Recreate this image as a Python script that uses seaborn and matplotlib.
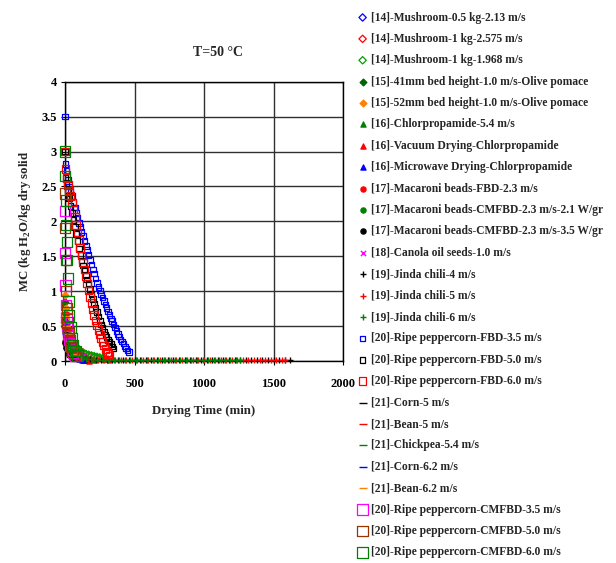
import matplotlib
matplotlib.use("Agg")
import matplotlib.pyplot as plt
import seaborn as sns

# ---- data (time in min, MC in kg H2O/kg dry solid) ----
mush_05_t = [0, 10, 20, 30, 40, 50, 60, 75, 90, 105, 120, 135, 150]
mush_05_mc = [0.62, 0.52, 0.44, 0.37, 0.31, 0.26, 0.22, 0.17, 0.13, 0.10, 0.08, 0.06, 0.05]
mush_1a_t = [0, 15, 30, 45, 60, 75, 90, 110, 130, 150, 170, 190, 210, 230, 250, 270, 290, 310, 330]
mush_1a_mc = [0.55, 0.45, 0.37, 0.31, 0.26, 0.22, 0.18, 0.15, 0.12, 0.10, 0.08, 0.07, 0.06, 0.05, 0.04, 0.03, 0.03, 0.02, 0.02]
mush_1b_t = [0, 15, 30, 45, 60, 75, 90, 110, 130, 150, 170, 190, 210, 230, 250, 270, 290]
mush_1b_mc = [0.50, 0.41, 0.34, 0.28, 0.24, 0.20, 0.17, 0.14, 0.12, 0.10, 0.09, 0.08, 0.07, 0.06, 0.05, 0.04, 0.03]

olive_41_t = [0, 5, 10, 15, 20, 30, 40, 50, 60, 70]
olive_41_mc = [0.85, 0.68, 0.55, 0.45, 0.37, 0.27, 0.20, 0.15, 0.12, 0.10]
olive_52_t = [0, 5, 10, 15, 20, 30, 40, 50, 60, 70]
olive_52_mc = [0.95, 0.76, 0.60, 0.48, 0.39, 0.28, 0.21, 0.16, 0.13, 0.11]

chlor_54_t = [0, 10, 20, 30, 40, 50, 60, 70, 80, 90, 100, 120, 140, 160, 180, 200]
chlor_54_mc = [0.55, 0.45, 0.38, 0.32, 0.27, 0.23, 0.20, 0.17, 0.15, 0.13, 0.11, 0.08, 0.06, 0.04, 0.03, 0.02]
chlor_vac_t = [0, 20, 40, 60, 80, 100, 120, 140, 160, 175]
chlor_vac_mc = [0.30, 0.22, 0.16, 0.12, 0.08, 0.06, 0.04, 0.02, 0.01, 0.0]
chlor_mw_t = [0, 5, 10, 15, 20, 25, 30, 40, 50, 60, 80, 100, 120, 140]
chlor_mw_mc = [0.62, 0.50, 0.41, 0.34, 0.28, 0.23, 0.19, 0.14, 0.10, 0.08, 0.05, 0.03, 0.02, 0.01]

mac_fbd_t = [0, 10, 20, 30, 40, 50, 60, 75, 90]
mac_fbd_mc = [0.28, 0.22, 0.18, 0.14, 0.11, 0.09, 0.07, 0.05, 0.04]
mac_21_t = [0, 10, 20, 30, 40, 50, 60]
mac_21_mc = [0.27, 0.20, 0.15, 0.11, 0.08, 0.06, 0.05]
mac_35_t = [0, 10, 20, 30, 40, 50]
mac_35_mc = [0.26, 0.18, 0.13, 0.09, 0.07, 0.05]

canola_t = [0, 10, 20, 30, 40, 50, 60, 80, 100, 120]
canola_mc = [0.60, 0.50, 0.42, 0.35, 0.29, 0.24, 0.20, 0.14, 0.10, 0.07]

chili4_t = [0, 15, 30, 45, 60, 90, 120, 150, 180, 220, 260, 300, 340, 380, 420, 460, 500, 540,
            580, 620, 660, 700, 740, 780, 820, 860, 900, 940, 980, 1020, 1060, 1100, 1140, 1180,
            1220, 1260, 1300, 1340, 1380, 1420, 1460, 1500, 1540, 1580, 1620]
chili4_mc = [0.42, 0.30, 0.21, 0.15, 0.10, 0.06, 0.04, 0.03, 0.025, 0.02, 0.02, 0.018, 0.017, 0.016,
             0.015, 0.015, 0.014, 0.014, 0.013, 0.013, 0.013, 0.012, 0.012, 0.012, 0.012, 0.011,
             0.011, 0.011, 0.011, 0.011, 0.010, 0.010, 0.010, 0.010, 0.010, 0.010, 0.010, 0.010,
             0.010, 0.010, 0.010, 0.010, 0.010, 0.010, 0.010]
chili5_t = [0, 15, 30, 45, 60, 90, 120, 160, 200, 240, 280, 320, 360, 400, 440, 480, 520, 560,
            600, 640, 680, 720, 760, 800, 840, 880, 920, 960, 1000, 1040, 1080, 1120, 1160, 1200,
            1240, 1280, 1320, 1360, 1400, 1440, 1480, 1520, 1560, 1580]
chili5_mc = [0.45, 0.32, 0.22, 0.16, 0.11, 0.07, 0.045, 0.03, 0.025, 0.02, 0.018, 0.017, 0.016,
             0.015, 0.015, 0.014, 0.014, 0.013, 0.013, 0.013, 0.012, 0.012, 0.012, 0.012, 0.011,
             0.011, 0.011, 0.011, 0.010, 0.010, 0.010, 0.010, 0.010, 0.010, 0.010, 0.010, 0.010,
             0.010, 0.010, 0.010, 0.010, 0.010, 0.010, 0.010]
chili6_t = [0, 15, 30, 45, 60, 90, 120, 150, 190, 230, 270, 310, 350, 390, 430, 470, 510, 550,
            590, 630, 670, 710, 750, 790, 830, 870, 910, 950, 990, 1030, 1070, 1110, 1150, 1190,
            1230, 1260]
chili6_mc = [0.47, 0.33, 0.23, 0.16, 0.11, 0.07, 0.045, 0.03, 0.025, 0.02, 0.018, 0.017, 0.016,
             0.015, 0.015, 0.014, 0.014, 0.013, 0.013, 0.013, 0.012, 0.012, 0.012, 0.012, 0.011,
             0.011, 0.011, 0.011, 0.010, 0.010, 0.010, 0.010, 0.010, 0.010, 0.010, 0.010]

fbd35_t = [0, 5, 10, 20, 30, 40, 50, 60, 70, 80, 90, 100, 110, 120, 130, 140, 150, 160, 170, 180,
           190, 200, 210, 220, 230, 240, 250, 260, 270, 280, 290, 300, 310, 320, 330, 340, 350,
           360, 370, 380, 390, 400, 410, 420, 430, 440, 450, 460]
fbd35_mc = [3.5, 2.82, 2.72, 2.60, 2.50, 2.42, 2.36, 2.28, 2.20, 2.12, 2.05, 1.98, 1.92, 1.85,
            1.79, 1.72, 1.65, 1.59, 1.52, 1.45, 1.38, 1.31, 1.25, 1.18, 1.12, 1.06, 1.01, 0.96,
            0.91, 0.86, 0.81, 0.76, 0.71, 0.66, 0.61, 0.57, 0.52, 0.48, 0.43, 0.39, 0.35, 0.31,
            0.28, 0.25, 0.21, 0.18, 0.15, 0.13]
fbd50_t = [0, 5, 10, 20, 30, 40, 50, 60, 70, 80, 90, 100, 110, 120, 130, 140, 150, 160, 170, 180,
           190, 200, 210, 220, 230, 240, 250, 260, 270, 280, 290, 300, 310, 320, 330, 340, 350]
fbd50_mc = [3.0, 2.62, 2.55, 2.45, 2.33, 2.22, 2.12, 2.02, 1.92, 1.82, 1.72, 1.61, 1.52, 1.44,
            1.37, 1.30, 1.23, 1.17, 1.10, 1.03, 0.96, 0.89, 0.82, 0.76, 0.70, 0.64, 0.58, 0.52,
            0.47, 0.42, 0.38, 0.34, 0.30, 0.27, 0.24, 0.21, 0.18]
fbd60_t = [0, 5, 10, 20, 30, 40, 50, 60, 70, 80, 90, 100, 110, 120, 130, 140, 150, 160, 170, 180,
           190, 200, 210, 220, 230, 240, 250, 260, 270, 280, 290, 300, 310, 320]
fbd60_mc = [3.0, 2.75, 2.62, 2.52, 2.44, 2.36, 2.27, 2.17, 2.06, 1.95, 1.84, 1.73, 1.62, 1.51,
            1.41, 1.31, 1.21, 1.11, 1.01, 0.92, 0.83, 0.74, 0.66, 0.58, 0.51, 0.44, 0.38, 0.32,
            0.27, 0.22, 0.17, 0.13, 0.10, 0.08]

corn5_t = [0, 10, 20, 30, 40, 50, 60, 70, 80]
corn5_mc = [0.55, 0.43, 0.34, 0.27, 0.21, 0.16, 0.12, 0.09, 0.07]
bean5_t = [0, 10, 20, 30, 40, 50, 60, 70, 80, 90]
bean5_mc = [0.70, 0.56, 0.45, 0.36, 0.29, 0.23, 0.18, 0.14, 0.11, 0.09]
chick_t = [0, 10, 20, 30, 40, 50, 60, 70, 80, 90, 100]
chick_mc = [0.48, 0.40, 0.33, 0.28, 0.23, 0.19, 0.16, 0.13, 0.11, 0.09, 0.08]
corn62_t = [0, 10, 20, 30, 40, 50, 60, 70]
corn62_mc = [0.50, 0.38, 0.29, 0.22, 0.17, 0.13, 0.10, 0.08]
bean62_t = [0, 10, 20, 30, 40, 50, 60, 70, 80]
bean62_mc = [0.65, 0.50, 0.38, 0.29, 0.22, 0.17, 0.13, 0.10, 0.08]

cm35_t = [0, 2, 4, 6, 10, 15, 20, 30, 40, 50, 60, 75]
cm35_mc = [2.15, 1.55, 1.08, 0.80, 0.62, 0.50, 0.40, 0.30, 0.22, 0.16, 0.12, 0.08]
cm50_t = [0, 2, 5, 8, 12, 18, 25, 35, 45, 55, 70]
cm50_mc = [2.40, 1.90, 1.45, 1.00, 0.75, 0.55, 0.42, 0.30, 0.20, 0.14, 0.10]
cm60_t = [0, 2, 5, 8, 12, 16, 20, 25, 30, 40, 50, 60, 75, 90]
cm60_mc = [3.0, 2.65, 2.30, 1.95, 1.70, 1.45, 1.18, 0.85, 0.65, 0.48, 0.33, 0.22, 0.14, 0.08]

labels = [
    "[14]-Mushroom-0.5 kg-2.13 m/s",
    "[14]-Mushroom-1 kg-2.575 m/s",
    "[14]-Mushroom-1 kg-1.968 m/s",
    "[15]-41mm bed height-1.0 m/s-Olive pomace",
    "[15]-52mm bed height-1.0 m/s-Olive pomace",
    "[16]-Chlorpropamide-5.4 m/s",
    "[16]-Vacuum Drying-Chlorpropamide",
    "[16]-Microwave Drying-Chlorpropamide",
    "[17]-Macaroni beads-FBD-2.3 m/s",
    "[17]-Macaroni beads-CMFBD-2.3 m/s-2.1 W/gr",
    "[17]-Macaroni beads-CMFBD-2.3 m/s-3.5 W/gr",
    "[18]-Canola oil seeds-1.0 m/s",
    "[19]-Jinda chili-4 m/s",
    "[19]-Jinda chili-5 m/s",
    "[19]-Jinda chili-6 m/s",
    "[20]-Ripe peppercorn-FBD-3.5 m/s",
    "[20]-Ripe peppercorn-FBD-5.0 m/s",
    "[20]-Ripe peppercorn-FBD-6.0 m/s",
    "[21]-Corn-5 m/s",
    "[21]-Bean-5 m/s",
    "[21]-Chickpea-5.4 m/s",
    "[21]-Corn-6.2 m/s",
    "[21]-Bean-6.2 m/s",
    "[20]-Ripe peppercorn-CMFBD-3.5 m/s",
    "[20]-Ripe peppercorn-CMFBD-5.0 m/s",
    "[20]-Ripe peppercorn-CMFBD-6.0 m/s",
]
series = [
    (mush_05_t, mush_05_mc), (mush_1a_t, mush_1a_mc), (mush_1b_t, mush_1b_mc),
    (olive_41_t, olive_41_mc), (olive_52_t, olive_52_mc),
    (chlor_54_t, chlor_54_mc), (chlor_vac_t, chlor_vac_mc), (chlor_mw_t, chlor_mw_mc),
    (mac_fbd_t, mac_fbd_mc), (mac_21_t, mac_21_mc), (mac_35_t, mac_35_mc),
    (canola_t, canola_mc),
    (chili4_t, chili4_mc), (chili5_t, chili5_mc), (chili6_t, chili6_mc),
    (fbd35_t, fbd35_mc), (fbd50_t, fbd50_mc), (fbd60_t, fbd60_mc),
    (corn5_t, corn5_mc), (bean5_t, bean5_mc), (chick_t, chick_mc),
    (corn62_t, corn62_mc), (bean62_t, bean62_mc),
    (cm35_t, cm35_mc), (cm50_t, cm50_mc), (cm60_t, cm60_mc),
]

# marker, colour, open?, size
styles = [
    ("D", "#0000FF", True, 14), ("D", "#FF0000", True, 14), ("D", "#00A000", True, 14),
    ("D", "#006400", False, 12), ("D", "#FF7F00", False, 12),
    ("^", "#008000", False, 14), ("^", "#FF0000", False, 14), ("^", "#0000FF", False, 14),
    ("o", "#FF0000", False, 14), ("o", "#008000", False, 14), ("o", "#000000", False, 14),
    ("x", "#FF00FF", False, 14),
    ("+", "#000000", False, 16), ("+", "#FF0000", False, 16), ("+", "#008000", False, 16),
    ("s", "#0000FF", True, 16), ("s", "#000000", True, 16), ("s", "#FF0000", True, 30),
    ("_", "#000000", False, 30), ("_", "#FF0000", False, 30), ("_", "#008000", False, 30),
    ("_", "#0000FF", False, 30), ("_", "#FF7F00", False, 30),
    ("s", "#FF00FF", True, 55), ("s", "#993300", True, 55), ("s", "#008000", True, 55),
]

sns.set_theme(style="white")
plt.rcParams['font.family'] = ['Liberation Serif', 'DejaVu Serif']
plt.rcParams['font.weight'] = 'bold'
plt.rcParams['mathtext.fontset'] = 'custom'
plt.rcParams['mathtext.rm'] = 'Liberation Serif:bold'

fig = plt.figure(figsize=(6.16, 5.63), dpi=100)
ax = fig.add_axes([65 / 616, 1 - 361 / 563, 278 / 616, (361 - 81.7) / 563])

for (t, mc), lab, (mk, col, hollow, size) in zip(series, labels, styles):
    kw = dict(marker=mk, s=size, color=col, clip_on=False, zorder=3)
    if mk in ("+", "x", "_"):
        kw["linewidth"] = 1.0
    else:
        kw["edgecolor"] = col
        kw["linewidth"] = 0.9
        if hollow:
            kw["facecolor"] = "none"
    sns.scatterplot(x=t, y=mc, ax=ax, label=lab, legend=False, **kw)

ax.set_xlim(0, 2000)
ax.set_ylim(0, 4)
ax.set_xticks([0, 500, 1000, 1500, 2000])
ax.set_yticks([0, 0.5, 1, 1.5, 2, 2.5, 3, 3.5, 4])
ax.set_yticklabels(["0", "0.5", "1", "1.5", "2", "2.5", "3", "3.5", "4"])
ax.grid(True, color="#303030", linewidth=1.0)
ax.set_axisbelow(True)
for sp in ax.spines.values():
    sp.set_color("black")
    sp.set_linewidth(1.0)
ax.tick_params(axis="both", labelsize=9, colors="black", direction="out", length=3, width=0.8)
ax.tick_params(axis="x", pad=9, bottom=True)
ax.tick_params(axis="y", pad=3, left=True)

ax.set_xlabel("Drying Time (min)", fontsize=9.3, fontweight="bold", labelpad=11)
ax.set_ylabel(r"MC (kg H$_\mathregular{2}$O/kg dry solid", fontsize=9.3, fontweight="bold", labelpad=6)
fig.text(218 / 616, 1 - 53 / 563, "T=50 °C", fontsize=10, fontweight="bold",
         ha="center", va="center")

handles, labs = ax.get_legend_handles_labels()
fig.legend(handles, labs, loc="upper left", bbox_to_anchor=(358 / 616, 1 - 11.5 / 563),
           frameon=False, fontsize=8.3, labelspacing=0.815, handlelength=0.8,
           handletextpad=0.3, borderaxespad=0, borderpad=0)

fig.savefig("out.png", dpi=100)
